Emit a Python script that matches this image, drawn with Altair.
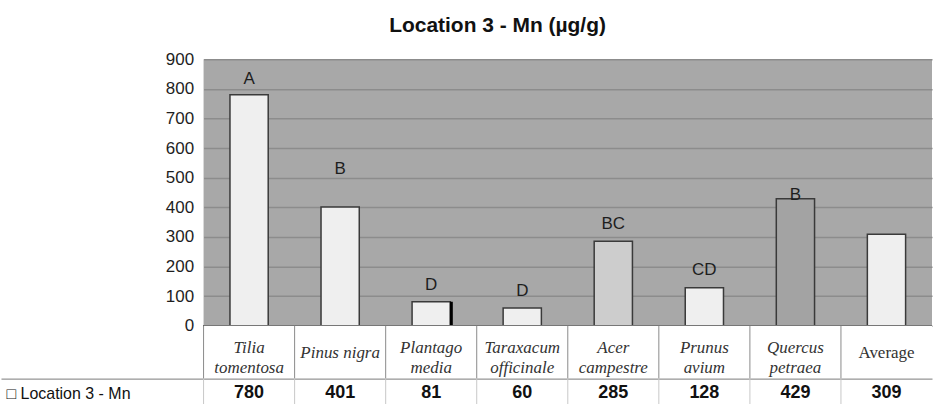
import altair as alt
import pandas as pd

# Manganese content per species at location 3 (µg/g)
species = ["Tilia tomentosa", "Pinus nigra", "Plantago media", "Taraxacum officinale",
           "Acer campestre", "Prunus avium", "Quercus petraea", "Average"]
cell_labels = ["Tilia\ntomentosa", "Pinus nigra", "Plantago\nmedia", "Taraxacum\nofficinale",
               "Acer\ncampestre", "Prunus\navium", "Quercus\npetraea", "Average"]
mn = [780, 401, 81, 60, 285, 128, 429, 309]
# significance groups and the level (µg/g) where each letter sits
letters = ["A", "B", "D", "D", "BC", "CD", "B", ""]
letter_level = [832, 528, 139, 118, 345, 189, 443, None]
series_name = "\u25a1 Location 3 - Mn"

bar_fills = ["#efefef", "#efefef", "#efefef", "#efefef", "#cdcdcd", "#efefef", "#a3a3a3", "#efefef"]

df = pd.DataFrame({"species": species, "label": cell_labels, "mn": mn,
                   "letter": letters, "level": letter_level})

SANS = "Liberation Sans, Arial, sans-serif"
SERIF = "Liberation Serif, Times New Roman, serif"

W = 730
H_PLOT, H_NAMES, H_VALUES = 267, 53, 27
ROW_LINE = 203  # length of the table's row rule to the left of the plot

# ---- bar panel ----
y_axis = alt.Axis(values=list(range(0, 1000, 100)), title=None, grid=True,
                  gridColor="#8c8c8c", gridWidth=1.5, ticks=False, domain=False,
                  labelFontSize=17, labelColor="#1e1e1e", labelPadding=10, labelFont=SANS)
y_scale = alt.Scale(domain=[0, 900])
bar_scale = alt.Scale(domain=species, paddingInner=0.58, paddingOuter=0.29)


def x_bar(band=0.5):
    return alt.X("species:N", sort=species, scale=bar_scale, axis=None, bandPosition=band)


bars = alt.Chart(df).mark_bar(stroke="#3a3a3a", strokeWidth=1.5).encode(
    x=alt.X("species:N", sort=species, scale=bar_scale, axis=None),
    y=alt.Y("mn:Q", scale=y_scale, axis=y_axis),
    color=alt.Color("species:N", scale=alt.Scale(domain=species, range=bar_fills), legend=None),
)

# dark shadow on the right side of the Plantago bar
edge = alt.Chart(df).transform_filter(alt.datum.species == "Plantago media").mark_rule(
    color="#000000", strokeWidth=3, xOffset=1
).encode(
    x=x_bar(1),
    y=alt.Y("mn:Q", scale=y_scale, axis=y_axis),
    y2=alt.datum(0),
)

baseline_rule = alt.Chart(df).mark_rule(color="#4a4a4a", strokeWidth=1.5).encode(
    y=alt.Y(datum=0, scale=y_scale, axis=y_axis)
)

letter_marks = alt.Chart(df).transform_filter(alt.datum.letter != "").mark_text(
    font=SANS, fontSize=17, color="#1e1e1e", baseline="middle"
).encode(
    x=x_bar(0.5),
    y=alt.Y("level:Q", scale=y_scale, axis=y_axis),
    text="letter:N",
)

top = alt.layer(bars, edge, baseline_rule, letter_marks).properties(
    width=W, height=H_PLOT,
    view=alt.ViewBackground(fill="#a8a8a8", stroke=None),
)

# ---- data table ----
tab_scale = alt.Scale(domain=species, paddingInner=0, paddingOuter=0)


def x_tab(band=0.5):
    return alt.X("species:N", sort=species, scale=tab_scale, axis=None, bandPosition=band)


def cell_borders(color):
    return alt.Chart(df).mark_rule(color=color, strokeWidth=1).encode(x=x_tab(0))


is_multi = "indexof(datum.label, '\\n') >= 0"

names_multi = alt.Chart(df).transform_filter(is_multi).mark_text(
    font=SERIF, fontStyle="italic", fontSize=17, lineBreak="\n", lineHeight=20,
    color="#333333", baseline="middle", dy=-4
).encode(x=x_tab(), text="label:N")

names_single = alt.Chart(df).transform_filter(
    f"!({is_multi}) && datum.species != 'Average'"
).mark_text(
    font=SERIF, fontStyle="italic", fontSize=17, color="#333333", baseline="middle", dy=1
).encode(x=x_tab(), text="label:N")

names_plain = alt.Chart(df).transform_filter(alt.datum.species == "Average").mark_text(
    font=SERIF, fontSize=17, color="#333333", baseline="middle", dy=1
).encode(x=x_tab(), text="label:N")

names_row = alt.layer(cell_borders("#8a8a8a"), names_multi, names_single, names_plain).properties(
    width=W, height=H_NAMES, view=alt.ViewBackground(fill="#ffffff", stroke=None)
)

# the row header sits 5px from the left edge; the tick doubles as the row rule
row_axis = alt.Axis(title=None, tickOffset=-H_VALUES / 2, grid=True, gridColor="#7a7a7a",
                    ticks=True, tickSize=ROW_LINE, tickColor="#7a7a7a", domain=False,
                    labelAlign="left", labelPadding=-5, labelBaseline="middle",
                    labelOffset=H_VALUES / 2 + 1, labelFontSize=16, labelColor="#111111",
                    labelFont=SANS)

values_row = alt.Chart(df).transform_calculate(row=f"'{series_name}'").mark_text(
    font=SANS, fontWeight="bold", fontSize=18, color="#111111", baseline="middle", dy=1
).encode(
    x=x_tab(),
    y=alt.Y("row:N", scale=alt.Scale(paddingInner=0, paddingOuter=0), axis=row_axis),
    text="mn:Q",
).properties(width=W, height=H_VALUES, view=alt.ViewBackground(fill="#ffffff", stroke=None))

value_borders = cell_borders("#c8c8c8").properties(
    width=W, height=H_VALUES, view=alt.ViewBackground(fill="#ffffff", stroke=None)
)

values_block = alt.layer(value_borders, values_row)

chart = alt.vconcat(top, names_row, values_block, spacing=0, bounds="flush").resolve_scale(
    x="independent"
).properties(
    title=alt.TitleParams("Location 3 - Mn (\u00b5g/g)", font=SANS, fontSize=21,
                          fontWeight="bold", color="#111111", anchor="middle",
                          offset=14, dx=31),
    padding={"left": 0, "top": 15, "right": 0, "bottom": 0},
).configure_view(stroke=None)

chart.save("out.html", embed_options={"renderer": "svg", "actions": False})
